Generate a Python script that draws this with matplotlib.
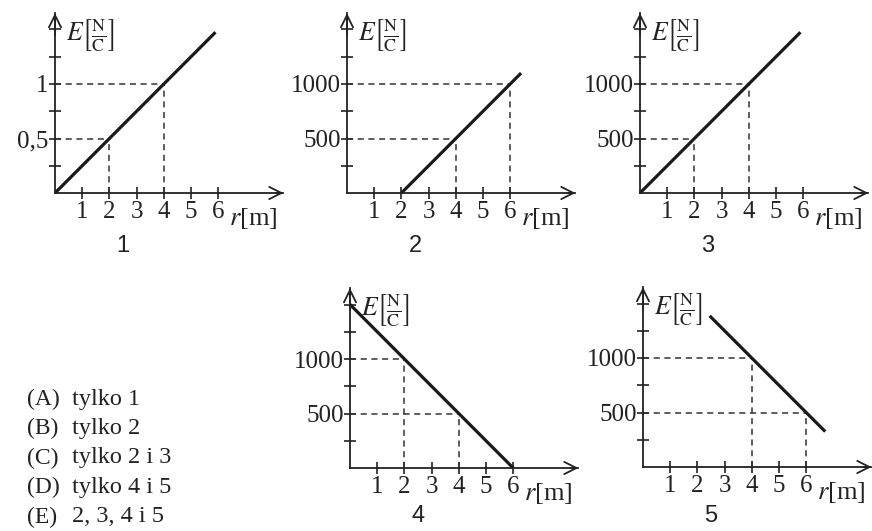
import matplotlib
matplotlib.use("Agg")
import matplotlib.pyplot as plt

plt.rcParams["font.family"] = ["Liberation Serif", "DejaVu Serif"]
plt.rcParams["mathtext.fontset"] = "stix"

W, H = 872, 531

# Five E(r) graphs: line endpoints, y-axis ticks / labels, dashed guide points
panel_names = ["1", "2", "3", "4", "5"]
line_r = [[0, 5.9], [2, 6.4], [0, 5.9], [0, 6.0], [2.45, 6.7]]
line_E = [[0, 1.475], [0, 1100], [0, 1475], [1500, 0], [1387, 325]]
y_ticks = [[0.25, 0.5, 0.75, 1.0, 1.25, 1.5],
           [250, 500, 750, 1000, 1250, 1500],
           [250, 500, 750, 1000, 1250, 1500],
           [250, 500, 750, 1000, 1250, 1500],
           [250, 500, 750, 1000, 1250, 1500]]
y_labels = [{0.5: "0,5", 1.0: "1"},
            {500: "500", 1000: "1000"},
            {500: "500", 1000: "1000"},
            {500: "500", 1000: "1000"},
            {500: "500", 1000: "1000"}]
guide_r = [[2, 4], [4, 6], [2, 4], [2, 4], [4, 6]]
guide_E = [[0.5, 1.0], [500, 1000], [500, 1000], [1000, 500], [1000, 500]]
x_ticks = [1, 2, 3, 4, 5, 6]

answer_keys = ["(A)", "(B)", "(C)", "(D)", "(E)"]
answers = ["tylko 1", "tylko 2", "tylko 2 i 3", "tylko 4 i 5", "2, 3, 4 i 5"]

# pixel origin of each graph and the data extent of its axes
origins = [(55, 193), (347, 193), (640, 193), (350, 468), (643, 467)]
name_offset = [-0.54, -0.54, -0.54, -0.5, -0.5]
y_unit = [1.0, 1000, 1000, 1000, 1000]
x_px = 27.2      # pixels per metre
y_px = 109.0     # pixels per y_unit
x_max = 8.4
y_max = 1.65

fig = plt.figure(figsize=(W / 100, H / 100), dpi=100)
fig.patch.set_facecolor("white")

for i in range(5):
    ox, oy = origins[i]
    yu = y_unit[i]
    ax = fig.add_axes([ox / W, (H - oy) / H, x_max * x_px / W, y_max * y_px / H])
    ax.set_xlim(0, x_max)
    ax.set_ylim(0, y_max * yu)
    ax.patch.set_alpha(0)
    for s in ("top", "right"):
        ax.spines[s].set_visible(False)
    for s in ("left", "bottom"):
        ax.spines[s].set_linewidth(1.3)
        ax.spines[s].set_color("#222222")

    ax.set_xticks(x_ticks)
    ax.set_xticklabels([str(t) for t in x_ticks])
    ax.set_yticks(y_ticks[i])
    ax.set_yticklabels([y_labels[i].get(t, "") for t in y_ticks[i]])
    ax.tick_params(direction="inout", length=9, width=1.2, colors="#222222",
                   labelsize=18, labelcolor="#222222")
    ax.tick_params(axis="x", pad=1)
    ax.tick_params(axis="y", pad=0)

    # arrowheads on both axes
    ax.annotate("", xy=(x_max, 0), xytext=(x_max - 0.3, 0),
                arrowprops=dict(arrowstyle="->", lw=1.3, color="#222222",
                                mutation_scale=22, shrinkA=0, shrinkB=0),
                annotation_clip=False)
    ax.annotate("", xy=(0, y_max * yu), xytext=(0, (y_max - 0.2) * yu),
                arrowprops=dict(arrowstyle="->", lw=1.3, color="#222222",
                                mutation_scale=22, shrinkA=0, shrinkB=0),
                annotation_clip=False)

    # dashed guides from the axes to the marked points
    for gr, ge in zip(guide_r[i], guide_E[i]):
        ax.plot([0, gr], [ge, ge], ls=(0, (4, 3)), lw=1.1, color="#333333",
                clip_on=False)
        ax.plot([gr, gr], [0, ge], ls=(0, (4, 3)), lw=1.1, color="#333333",
                clip_on=False)

    ax.plot(line_r[i], line_E[i], color="#1a1a1a", lw=2.3,
            solid_capstyle="butt", clip_on=False)

    ax.text(0.4, (y_max - 0.2) * yu,
            r"$E\left[\frac{\mathrm{N}}{\mathrm{C}}\right]$",
            fontsize=18.5, ha="left", va="center", color="#222222")
    ax.text(6.4, -0.23 * yu, r"$r$[m]", fontsize=19, ha="left", va="center",
            color="#222222")
    ax.text(2.5, name_offset[i] * yu, panel_names[i], fontsize=17,
            ha="center", va="baseline",
            family=["Liberation Sans", "DejaVu Sans"], color="#222222")

for k, (key, txt) in enumerate(zip(answer_keys, answers)):
    y = 1 - (399 + 29.5 * k) / H
    fig.text(27 / W, y, key, fontsize=17, ha="left", va="center",
             color="#222222")
    fig.text(72 / W, y, txt, fontsize=17.5, ha="left", va="center",
             color="#222222")

fig.savefig("out.png", dpi=100, facecolor="white")
